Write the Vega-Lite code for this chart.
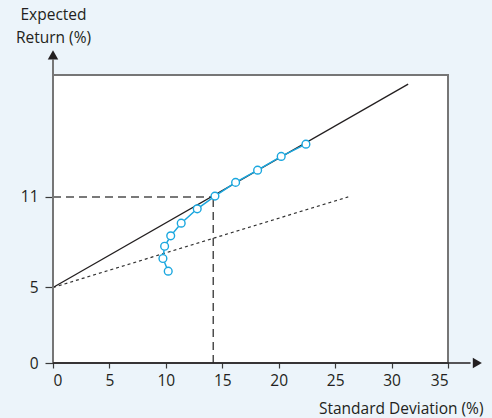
{
  "$schema": "https://vega.github.io/schema/vega-lite/v6.json",
  "width": 395,
  "height": 288,
  "autosize": "none",
  "padding": {"left": 53, "top": 75, "right": 44, "bottom": 55},
  "background": "#ecf4fa",
  "config": {
    "view": {"fill": "white", "stroke": "#767676", "strokeWidth": 2},
    "font": "Open Sans",
    "axis": {"labelFont": "Open Sans", "titleFont": "Open Sans", "labelColor": "#231f20", "titleColor": "#231f20", "labelFontSize": 15.5, "titleFontSize": 15.5, "titleFontWeight": "normal", "grid": false, "domain": false, "tickColor": "#3a3a3a", "tickWidth": 1.2}
  },
  "datasets": {
    "lines": [
      {"series": "cml", "x": 0, "y": 5, "x2": 31.47, "y2": 18.47},
      {"series": "dotted", "x": 0, "y": 5, "x2": 26.16, "y2": 11},
      {"series": "ref", "x": 0, "y": 11, "x2": 14.2, "y2": 11},
      {"series": "ref", "x": 14.2, "y": 0, "x2": 14.2, "y2": 11},
      {"series": "xaxis", "x": 0, "y": 0, "x2": 37, "y2": 0},
      {"series": "yaxis", "x": 0, "y": 0, "x2": 0, "y2": 20.1}
    ],
    "arrows": [
      {"series": "arrowx", "x": 37.6, "y": 0},
      {"series": "arrowy", "x": 0, "y": 20.4}
    ],
    "frontier": [
      {"order": 1, "sd": 10.21, "ret": 6.08},
      {"order": 2, "sd": 9.74, "ret": 6.92},
      {"order": 3, "sd": 9.89, "ret": 7.73},
      {"order": 4, "sd": 10.43, "ret": 8.42},
      {"order": 5, "sd": 11.36, "ret": 9.26},
      {"order": 6, "sd": 12.78, "ret": 10.21},
      {"order": 7, "sd": 14.35, "ret": 11.05},
      {"order": 8, "sd": 16.18, "ret": 11.96},
      {"order": 9, "sd": 18.13, "ret": 12.77},
      {"order": 10, "sd": 20.22, "ret": 13.68},
      {"order": 11, "sd": 22.41, "ret": 14.49}
    ]
  },
  "encoding": {
    "x": {"field": "x", "type": "quantitative", "scale": {"domain": [0, 35], "nice": false, "clamp": false},
      "axis": {"values": [0, 5, 10, 15, 20, 25, 30, 35], "tickSize": 5, "labelPadding": 5, "title": "Standard Deviation (%)", "titleAlign": "right", "titleAnchor": null, "titleX": 430, "titleY": 50, "titleBaseline": "alphabetic"}},
    "y": {"field": "y", "type": "quantitative", "scale": {"domain": [0, 19.07], "nice": false, "clamp": false},
      "axis": {"values": [0, 5, 11], "tickSize": 8, "labelPadding": 7, "title": ["Expected", "Return (%)"], "titleAngle": 0, "titleAlign": "center", "titleAnchor": null, "titleX": 0, "titleY": -56, "titleBaseline": "alphabetic", "titleLineHeight": 23}}
  },
  "layer": [
    {
      "data": {"name": "lines"},
      "transform": [{"filter": "datum.series === 'ref'"}],
      "mark": {"type": "rule", "color": "#4d4d4d", "strokeWidth": 1.5, "strokeDash": [8, 5]},
      "encoding": {"x2": {"field": "x2"}, "y2": {"field": "y2"}}
    },
    {
      "data": {"name": "lines"},
      "transform": [{"filter": "datum.series === 'dotted'"}],
      "mark": {"type": "rule", "color": "#333333", "strokeWidth": 1.2, "strokeDash": [3, 3]},
      "encoding": {"x2": {"field": "x2"}, "y2": {"field": "y2"}}
    },
    {
      "data": {"name": "lines"},
      "transform": [{"filter": "datum.series === 'cml'"}],
      "mark": {"type": "rule", "color": "#231f20", "strokeWidth": 1.3},
      "encoding": {"x2": {"field": "x2"}, "y2": {"field": "y2"}}
    },
    {
      "data": {"name": "lines"},
      "transform": [{"filter": "datum.series === 'yaxis'"}],
      "mark": {"type": "rule", "color": "#767676", "strokeWidth": 2},
      "encoding": {"x2": {"field": "x2"}, "y2": {"field": "y2"}}
    },
    {
      "data": {"name": "lines"},
      "transform": [{"filter": "datum.series === 'xaxis'"}],
      "mark": {"type": "rule", "color": "#231f20", "strokeWidth": 1.5},
      "encoding": {"x2": {"field": "x2"}, "y2": {"field": "y2"}}
    },
    {
      "data": {"name": "arrows"},
      "transform": [{"filter": "datum.series === 'arrowx'"}],
      "mark": {"type": "point", "shape": "triangle-right", "filled": true, "color": "#231f20", "size": 110, "opacity": 1, "clip": false},
      "encoding": {}
    },
    {
      "data": {"name": "arrows"},
      "transform": [{"filter": "datum.series === 'arrowy'"}],
      "mark": {"type": "point", "shape": "triangle-up", "filled": true, "color": "#231f20", "size": 110, "opacity": 1, "clip": false},
      "encoding": {}
    },
    {
      "data": {"name": "frontier"},
      "mark": {"type": "line", "color": "#1aa7df", "strokeWidth": 1.5},
      "encoding": {
        "x": {"field": "sd", "type": "quantitative"},
        "y": {"field": "ret", "type": "quantitative"},
        "order": {"field": "order", "type": "quantitative"}
      }
    },
    {
      "data": {"name": "frontier"},
      "mark": {"type": "point", "shape": "circle", "filled": true, "fill": "white", "stroke": "#1aa7df", "strokeWidth": 1.4, "size": 60, "opacity": 1},
      "encoding": {
        "x": {"field": "sd", "type": "quantitative"},
        "y": {"field": "ret", "type": "quantitative"}
      }
    }
  ]
}
